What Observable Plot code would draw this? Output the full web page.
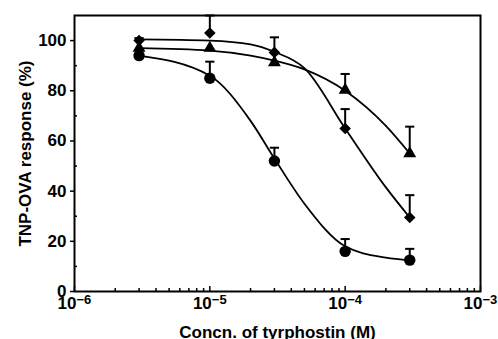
<!DOCTYPE html>
<html><head><meta charset="utf-8">
<script src="https://cdn.jsdelivr.net/npm/d3@7"></script>
<script src="https://cdn.jsdelivr.net/npm/@observablehq/plot@0.6"></script>
<style>body{margin:0;background:#fff}</style>
</head><body><div id="chart"></div>
<script>
// Measured concentrations (M)
const conc = [3e-6, 1e-5, 3e-5, 1e-4, 3e-4];
// Mean responses (%)
const circleMean   = [94, 85, 52, 16, 12.5];
const diamondMean  = [100, 103, 95.3, 65, 29.5];
const triangleMean = [97, 97, 91.3, 80.3, 55];
// Upper error-bar ends (%), null = no visible bar
const circleErr   = [null, 91.6, 57.3, 20.9, 17];
const diamondErr  = [101, 110, 101.3, 72.7, 38.4];
const triangleErr = [null, null, null, 86.7, 65.7];
// Fitted curves
const fitConc     = [3e-6, 1e-5, 2e-5, 3e-5, 5e-5, 1e-4, 2e-4, 3e-4];
const circleFit   = [94, 86, 68, 53, 35, 18, 13.5, 12.5];
const diamondFit  = [100.5, 100, 98.5, 95.5, 89, 65, 41.5, 29.5];
const triangleFit = [97, 96, 94, 92, 88.5, 80, 66, 55];
// Axis ticks
const xMajor = [1e-6, 1e-5, 1e-4, 1e-3];
const xMinor = [2,3,4,5,6,7,8,9].flatMap(m => [1e-6, 1e-5, 1e-4].map(d => m * d));
const yMajor = [0, 20, 40, 60, 80, 100];
const yMinor = [10, 30, 50, 70, 90];

const series = [
  {name: "circle", symbol: "circle", r: 5.7, mean: circleMean, err: circleErr, fit: circleFit},
  {name: "diamond", symbol: "diamond2", r: 5.2, mean: diamondMean, err: diamondErr, fit: diamondFit},
  {name: "triangle", symbol: "triangle", r: 4.8, mean: triangleMean, err: triangleErr, fit: triangleFit}
];
const points = series.flatMap(s => conc.map((c, i) => ({s: s.name, symbol: s.symbol, r: s.r, x: c, y: s.mean[i], e: s.err[i]})));
const bars = points.filter(d => d.e != null);
const fits = series.flatMap(s => fitConc.map((c, i) => ({s: s.name, x: c, y: s.fit[i]})));

const expo = d => "\u2212" + String(Math.abs(Math.round(Math.log10(d))));

const capSymbol = {draw(ctx, size) { const w = Math.sqrt(size / Math.PI); ctx.moveTo(-w, 0); ctx.lineTo(w, 0); }};

const chart = Plot.plot({
  width: 498, height: 339,
  marginLeft: 74, marginRight: 18, marginTop: 15, marginBottom: 48,
  style: {fontFamily: "Liberation Sans, Arial, sans-serif", fontSize: "16px", fontWeight: "bold", color: "#000", background: "#fff"},
  x: {type: "log", domain: [1e-6, 1e-3]},
  y: {domain: [0, 110]},
  symbol: {type: "identity"},
  r: {type: "identity"},
  marks: [
    Plot.axisX({ticks: xMajor, tickSize: -5, text: null, strokeWidth: 1.5, label: "Concn. of tyrphostin (M)", labelAnchor: "center", labelArrow: "none", labelOffset: 46, fontSize: 17}),
    Plot.axisX({ticks: xMinor, tickSize: -3, text: null, label: null, strokeWidth: 1.5}),
    Plot.text(xMajor, {x: d => d, text: () => "10", frameAnchor: "bottom", lineAnchor: "top", textAnchor: "end", dx: 2, dy: 5, fontSize: 17}),
    Plot.text(xMajor, {x: d => d, text: expo, frameAnchor: "bottom", lineAnchor: "top", textAnchor: "start", dx: 2, dy: 3, fontSize: 13}),
    Plot.axisY({ticks: yMajor, tickSize: 4, tickPadding: 4, strokeWidth: 1.5, label: "TNP-OVA response (%)", labelAnchor: "center", labelArrow: "none", labelOffset: 56, fontSize: 17}),
    Plot.axisY({ticks: yMinor, tickSize: -3, text: null, label: null, strokeWidth: 1.5}),
    Plot.frame({stroke: "#000", strokeWidth: 2}),
    Plot.line(fits, {x: "x", y: "y", z: "s", curve: "monotone-x", stroke: "#000", strokeWidth: 1.8}),
    Plot.ruleX(bars, {x: "x", y1: "y", y2: "e", stroke: "#000", strokeWidth: 2}),
    Plot.dot(bars, {x: "x", y: "e", symbol: () => capSymbol, r: 4.6, stroke: "#000", strokeWidth: 2, fill: "none"}),
    Plot.dot(points, {x: "x", y: "y", symbol: "symbol", r: "r", fill: "#000", stroke: "none"})
  ]
});
document.getElementById("chart").append(chart);
</script>
</body></html>
